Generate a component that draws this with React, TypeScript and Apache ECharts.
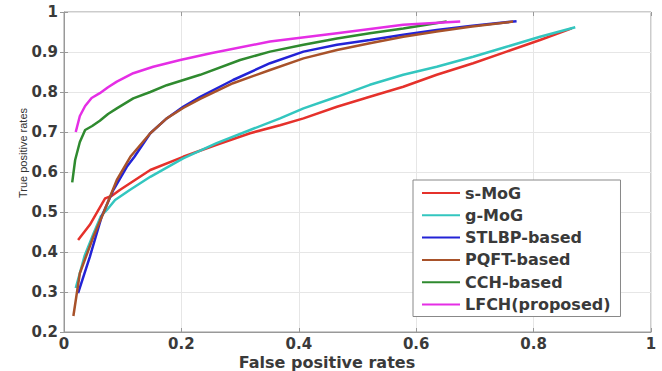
import React, { useEffect, useRef } from "react";
import * as echarts from "echarts";

const seriesNames = ["s-MoG", "g-MoG", "STLBP-based", "PQFT-based", "CCH-based", "LFCH(proposed)"];
const seriesColors = ["#e5312b", "#33c6bf", "#2323d6", "#a8522a", "#2f8a2f", "#e52ee5"];

const sMoG = [
  [0.024, 0.43], [0.044, 0.468], [0.07, 0.534], [0.081, 0.54], [0.095, 0.555], [0.147, 0.605],
  [0.203, 0.638], [0.26, 0.668], [0.317, 0.697], [0.368, 0.717], [0.408, 0.734], [0.465, 0.763],
  [0.521, 0.788], [0.578, 0.813], [0.635, 0.843], [0.697, 0.872], [0.754, 0.901], [0.811, 0.93],
  [0.865, 0.959],
];
const gMoG = [
  [0.02, 0.31], [0.035, 0.39], [0.05, 0.445], [0.063, 0.49], [0.073, 0.505], [0.087, 0.53],
  [0.112, 0.555], [0.147, 0.588], [0.203, 0.634], [0.26, 0.672], [0.317, 0.705], [0.368, 0.734],
  [0.408, 0.759], [0.465, 0.788], [0.521, 0.818], [0.578, 0.843], [0.635, 0.863], [0.697, 0.888],
  [0.754, 0.913], [0.811, 0.938], [0.871, 0.962],
];
const stlbp = [
  [0.024, 0.297], [0.044, 0.388], [0.064, 0.488], [0.084, 0.555], [0.107, 0.613], [0.12, 0.638],
  [0.147, 0.697], [0.175, 0.734], [0.203, 0.763], [0.232, 0.788], [0.288, 0.83], [0.351, 0.872],
  [0.408, 0.901], [0.465, 0.918], [0.521, 0.93], [0.578, 0.943], [0.635, 0.955], [0.692, 0.965],
  [0.771, 0.977],
];
const pqft = [
  [0.016, 0.24], [0.027, 0.347], [0.05, 0.438], [0.067, 0.497], [0.09, 0.58], [0.113, 0.638],
  [0.147, 0.697], [0.175, 0.734], [0.203, 0.76], [0.232, 0.783], [0.288, 0.822], [0.351, 0.855],
  [0.408, 0.884], [0.465, 0.905], [0.521, 0.922], [0.578, 0.938], [0.635, 0.951], [0.692, 0.963],
  [0.765, 0.976],
];
const cch = [
  [0.014, 0.574], [0.019, 0.63], [0.027, 0.675], [0.036, 0.705], [0.048, 0.715], [0.061, 0.728],
  [0.075, 0.745], [0.09, 0.759], [0.118, 0.784], [0.147, 0.8], [0.175, 0.817], [0.232, 0.843],
  [0.3, 0.88], [0.351, 0.901], [0.408, 0.918], [0.465, 0.934], [0.521, 0.947], [0.578, 0.959],
  [0.652, 0.976],
];
const lfch = [
  [0.02, 0.7], [0.027, 0.74], [0.036, 0.765], [0.047, 0.785], [0.061, 0.797], [0.075, 0.812],
  [0.09, 0.826], [0.118, 0.847], [0.152, 0.863], [0.198, 0.88], [0.25, 0.897], [0.351, 0.926],
  [0.465, 0.947], [0.578, 0.968], [0.675, 0.976],
];
const allData = [sMoG, gMoG, stlbp, pqft, cch, lfch];

const xTitle = "False positive rates";
const yTitle = "True positive rates";

export default function App() {
  const ref = useRef<HTMLDivElement>(null);
  useEffect(() => {
    if (!ref.current) return;
    const chart = echarts.init(ref.current, null, { renderer: "svg" });
    const tickFont = { fontFamily: "DejaVu Sans", fontWeight: "bold" as const, fontSize: 15, color: "#3a3a3a" };
    chart.setOption({
      animation: false,
      backgroundColor: "#fff",
      grid: { left: 64, right: 11, top: 12, bottom: 39, show: true, borderColor: "#999", borderWidth: 1, backgroundColor: "#fff" },
      xAxis: [
        {
          type: "value", min: 0, max: 1, interval: 0.2,
          axisLine: { show: true, lineStyle: { color: "#999" } },
          axisTick: { show: true, inside: true, length: 4, lineStyle: { color: "#999" } },
          splitLine: { show: true, lineStyle: { color: "#e6e6e6" } },
          axisLabel: { ...tickFont, margin: 4, formatter: (v: number) => String(Math.round(v * 10) / 10) },
        },
        {
          type: "value", position: "top", min: 0, max: 1, interval: 0.2,
          axisLine: { show: false }, axisLabel: { show: false }, splitLine: { show: false },
          axisTick: { show: true, inside: true, length: 4, lineStyle: { color: "#999" } },
        },
      ],
      yAxis: [
        {
          type: "value", min: 0.2, max: 1, interval: 0.1,
          axisLine: { show: true, lineStyle: { color: "#999" } },
          axisTick: { show: true, inside: true, length: 4, lineStyle: { color: "#999" } },
          splitLine: { show: true, lineStyle: { color: "#e6e6e6" } },
          axisLabel: { ...tickFont, margin: 6, formatter: (v: number) => String(Math.round(v * 10) / 10) },
        },
        {
          type: "value", position: "right", min: 0.2, max: 1, interval: 0.1,
          axisLine: { show: false }, axisLabel: { show: false }, splitLine: { show: false },
          axisTick: { show: true, inside: true, length: 4, lineStyle: { color: "#999" } },
        },
      ],
      legend: {
        orient: "vertical",
        left: 413,
        top: 180,
        padding: [5, 10, 4, 9],
        itemWidth: 38,
        itemHeight: 2,
        itemGap: 6.3,
        icon: "rect",
        backgroundColor: "#fff",
        borderColor: "#888",
        borderWidth: 1,
        borderRadius: 0,
        data: seriesNames,
        textStyle: { fontFamily: "DejaVu Sans", fontWeight: "bold", fontSize: 16, color: "#3a3a3a" },
      },
      series: seriesNames.map((name, i) => ({
        name,
        type: "line",
        xAxisIndex: 0,
        yAxisIndex: 0,
        data: allData[i],
        showSymbol: false,
        symbol: "none",
        smooth: false,
        lineStyle: { width: 2.5, color: seriesColors[i] },
        itemStyle: { color: seriesColors[i] },
      })),
      graphic: [
        {
          type: "text", x: 327, y: 362,
          style: { text: xTitle, fontFamily: "DejaVu Sans", fontWeight: "bold", fontSize: 16, fill: "#3a3a3a", textAlign: "center", textVerticalAlign: "middle" },
        },
        {
          type: "text", x: 23, y: 153, rotation: Math.PI / 2,
          style: { text: yTitle, fontFamily: "Liberation Sans", fontSize: 11, fill: "#333", textAlign: "center", textVerticalAlign: "middle" },
        },
      ],
    });
    return () => chart.dispose();
  }, []);
  return <div ref={ref} style={{ position: "fixed", left: 0, top: 0, width: 662, height: 371 }} />;
}
